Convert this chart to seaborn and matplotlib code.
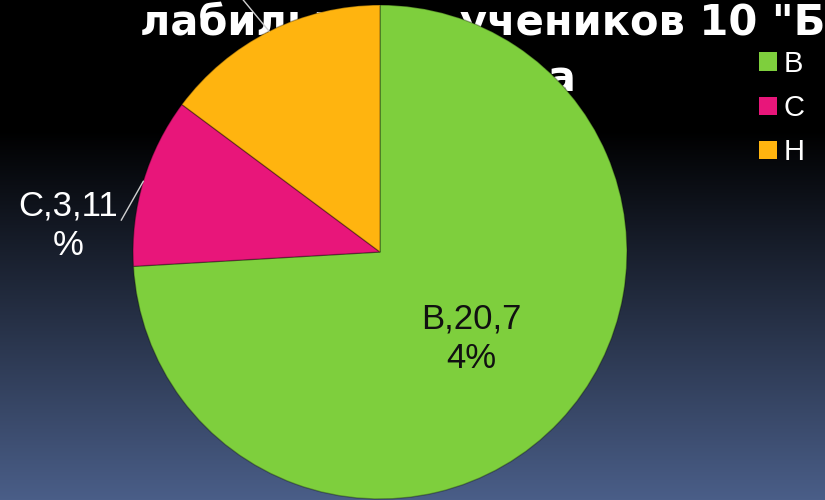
import numpy as np
import matplotlib
matplotlib.use("Agg")
import matplotlib.pyplot as plt
import seaborn as sns

# Data (counts per category)
categories = ["В", "С", "Н"]
counts = [20, 3, 4]
colors = ["#7ecf3d", "#e8167a", "#ffb40f"]
title_line1 = "лабильность учеников 10 \"Б\""
title_line2 = "класса"

sns.set_theme(style="white")
plt.rcParams["font.family"] = ["Liberation Sans", "DejaVu Sans"]

fig = plt.figure(figsize=(8.25, 5), dpi=100)

# background gradient: black on top, slate blue at the bottom
bg = fig.add_axes([0, 0, 1, 1], zorder=-5)
rows = np.linspace(0, 500, 500)
t = np.clip((rows - 130) / 370, 0, 1)
top = np.array([0, 0, 0]) / 255
bottom = np.array([74, 94, 136]) / 255
grad = top[None, :] * (1 - t[:, None]) + bottom[None, :] * t[:, None]
bg.imshow(grad[:, None, :], aspect="auto", extent=[0, 1, 0, 1])
bg.axis("off")

# title sits behind the pie
fig.text(140 / 825, 1 - 35 / 500, title_line1, ha="left", va="baseline",
         color="white", fontsize=30, fontweight="bold",
         family=["DejaVu Sans"], zorder=-1)
fig.text(576 / 825, 1 - 92 / 500, title_line2, ha="right", va="baseline",
         color="white", fontsize=30, fontweight="bold",
         family=["DejaVu Sans"], zorder=-1)

ax = fig.add_axes([133 / 825, 1 / 500, 494 / 825, 494 / 500])
ax.set_facecolor("none")
wedges, _ = ax.pie(counts, colors=colors, startangle=90, counterclock=False,
                   radius=1, wedgeprops=dict(edgecolor=(0, 0, 0, 0.3), linewidth=1))
ax.set_xlim(-1, 1)
ax.set_ylim(-1, 1)
ax.set_aspect("equal")
ax.axis("off")

total = sum(counts)
labels = []
for c, v in zip(categories, counts):
    s = f"{c},{v},{round(100 * v / total)}%"
    labels.append(s[:6] + "\n" + s[6:])

def mid_point(w, r=1.0):
    a = np.deg2rad((w.theta1 + w.theta2) / 2)
    return r * np.cos(a), r * np.sin(a)

# В - inside the wedge
ax.text(*mid_point(wedges[0], 0.51), labels[0], ha="center", va="center",
        ma="center", fontsize=25, color="#111111", linespacing=1.25)
# С - outside with leader line
line = dict(arrowstyle="-", color="#d0d0d0", lw=1, shrinkA=0, shrinkB=0)
ax.annotate(labels[1], xy=mid_point(wedges[1]), xytext=(-1.263, 0.105),
            ha="center", va="center", ma="center", fontsize=25, color="white",
            linespacing=1.25, arrowprops=dict(line, relpos=(1, 0.5)))
# Н - label falls above the canvas
ax.annotate(labels[2], xy=mid_point(wedges[2]), xytext=(-0.923, 1.466),
            ha="center", va="bottom", ma="center", fontsize=25, color="white",
            linespacing=1.25, arrowprops=dict(line, relpos=(0.5, 0)))

leg = fig.legend(wedges, categories, loc="upper left",
                 bbox_to_anchor=(759 / 825, 1 - 50 / 500), frameon=False,
                 fontsize=21, labelcolor="white", handlelength=0.6,
                 handleheight=0.6, handletextpad=0.25, labelspacing=0.55,
                 borderpad=0, borderaxespad=0)
for h in leg.legend_handles:
    h.set_edgecolor("none")

fig.savefig("out.png", dpi=100)
